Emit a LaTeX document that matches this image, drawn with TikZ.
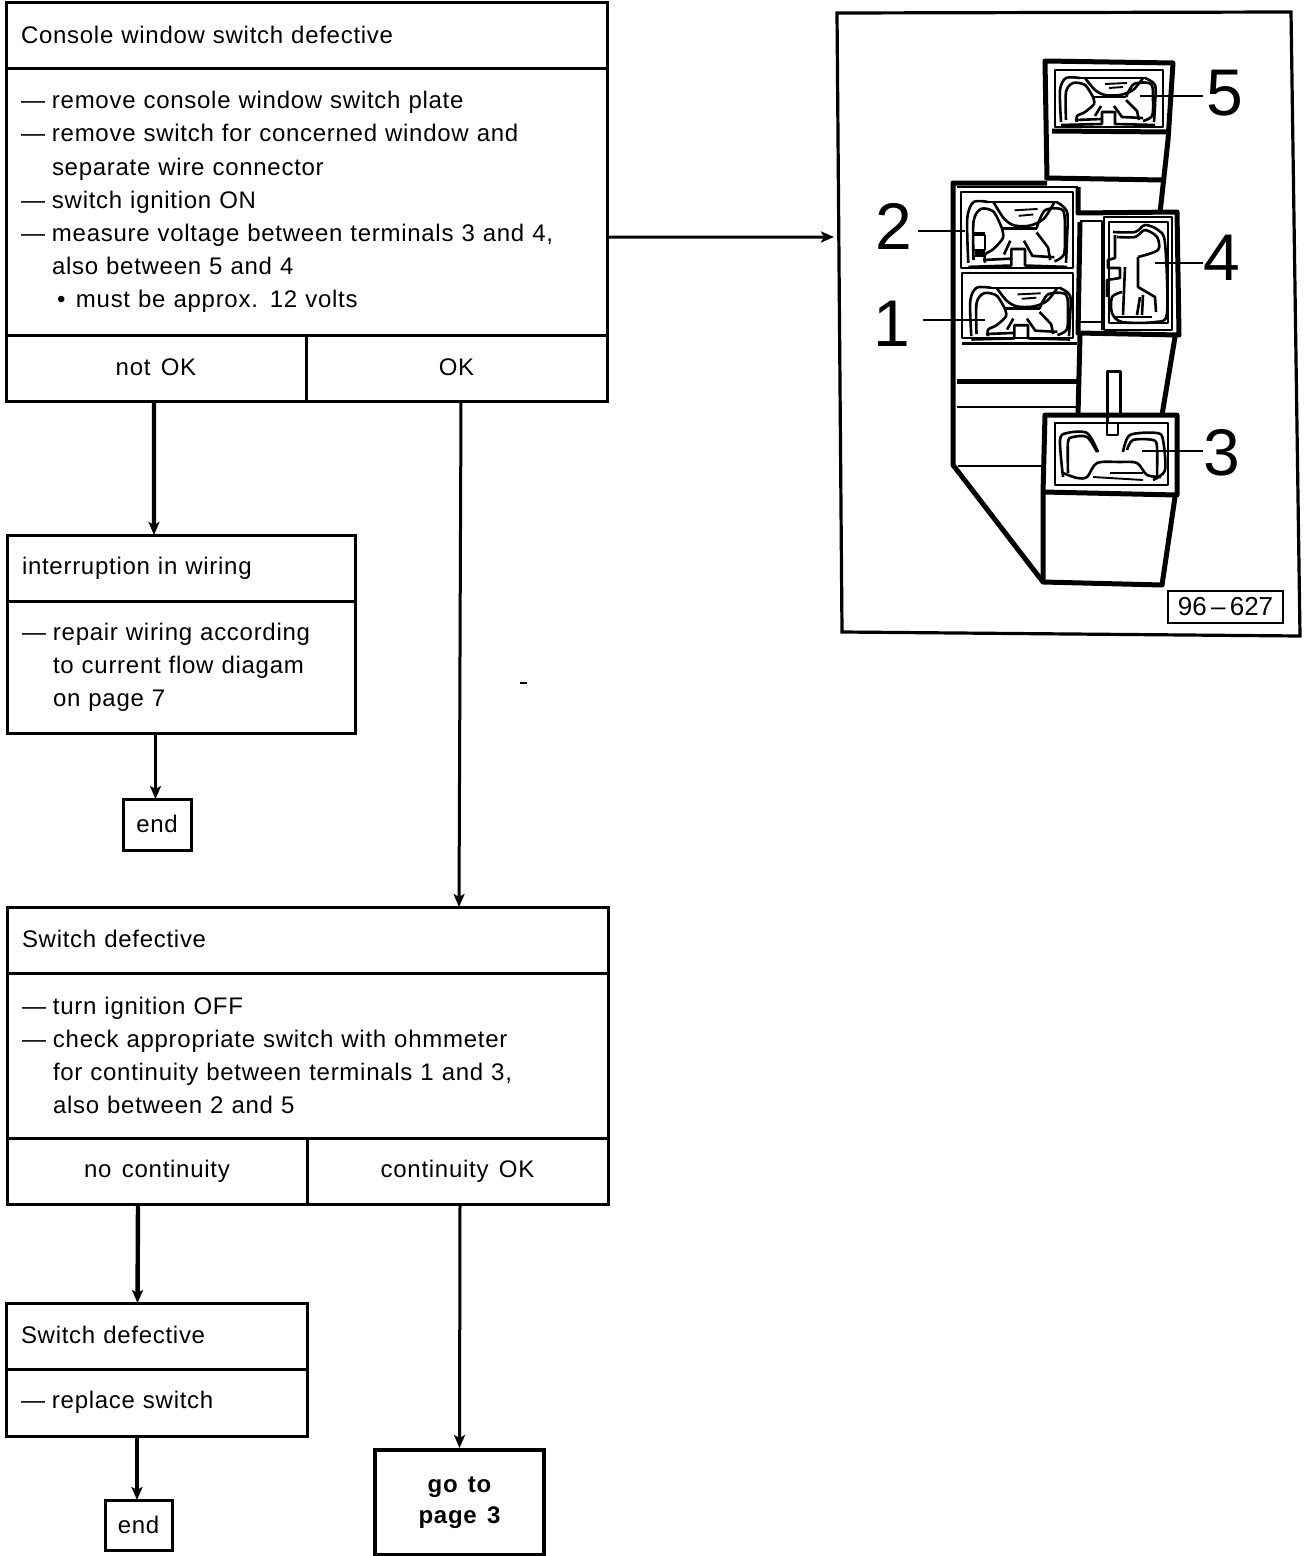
\documentclass[tikz,border=0pt]{standalone}
\usepackage{fontspec}
\setmainfont[LetterSpace=3,WordSpace=1.4]{Liberation Sans}
\newfontfamily\numfont{Liberation Sans}
\usetikzlibrary{arrows.meta}
\newcommand{\dd}{\makebox[31bp][l]{—}}
\newcommand{\ind}{\hspace*{31bp}}
\newcommand{\up}[1]{\raisebox{2bp}{#1}}
\newcommand{\terminal}[4]{%
\begin{scope}[shift={(#1,#2)},x={#3},y={#4},term part]
\draw plot[smooth] coordinates {(6,52)(5,20)(11,8)(25,8)};
\draw (25,8)--(90,8);
\draw plot[smooth] coordinates {(90,8)(100,15)(100,35)(99,52)};
\draw plot[smooth] coordinates {(30,8)(40,20)(50,25)(65,25)(78,20)(88,8)};
\draw plot[smooth] coordinates {(11,50)(11,22)(18,13)(30,15)(38,27)};
\draw (38,27)--(71,27);
\draw plot[smooth] coordinates {(71,27)(79,14)(96,14)(98,30)(97,46)(88,51)};
\draw plot[smooth] coordinates {(38,27)(39,34)(30,42)(22,46)(22,52)};
\draw (71,30)--(82,41)--(84,50);
\draw (46,36)--(40,46);
\draw (59,36)--(67,47)--(88,48);
\draw (20,50)--(47,49)--(47,42)--(60,42)--(60,54)--(100,55);
\draw (47,49)--(47,54)--(6,55);
\draw[thin part] (50,14)--(72,13) (54,18)--(68,17);
\end{scope}}
\tikzset{
  x=1bp,y=-1bp,
  boxline/.style={draw=black,line width=3bp},
  tbox/.style 2 args={boxline,anchor=north west,outer sep=0pt,inner ysep=0pt,inner xsep=15bp,
    text width=#1bp-30bp,minimum height=#2bp,align=left,
    font=\fontsize{24bp}{33.2bp}\selectfont},
  cbox/.style 2 args={boxline,anchor=north west,outer sep=0pt,inner sep=0pt,
    minimum width=#1bp,minimum height=#2bp,align=center,
    font=\fontsize{24bp}{31bp}\selectfont},
  arr/.style={line width=3bp,-{Stealth[length=13bp,width=11bp,inset=3bp]}},
  heavy arr/.style={arr,line width=4.4bp},
  thick part/.style={line width=5bp,line join=round},
  term part/.style={line width=2.6bp,line join=round},
  thin part/.style={line width=1.9bp,line join=round},
  numeral/.style={font=\fontsize{66bp}{66bp}\selectfont\numfont,inner sep=0pt},
  leader/.style={line width=2bp}
}
\begin{document}
\begin{tikzpicture}
\useasboundingbox (0,0) rectangle (1312,1556);
% --- first block
\node[tbox={601}{66}] (h1) at (6,3) {\up{Console window switch defective}};
\node[tbox={601}{266}] (b1) at (6,69) {\dd remove console window switch plate\\
\dd remove switch for concerned window and\\
\ind separate wire connector\\
\dd switch ignition ON\\
\dd measure voltage between terminals 3 and 4,\\
\ind also between 5 and 4\\
\hspace*{36bp}\makebox[19bp][l]{•}must be approx. 12 volts};
\node[cbox={300}{66}] (notok) at (6,335) {\up{not OK}};
\node[cbox={301}{66}] (ok) at (306,335) {\up{OK}};
% --- interruption
\node[tbox={348}{66}] (h2) at (7,535) {interruption in wiring};
\node[tbox={348}{132}] (b2) at (7,601) {\dd repair wiring according\\
\ind to current flow diagam\\
\ind on page 7};
\node[cbox={68}{51}] (end1) at (123,799) {\up{end}};
% --- switch defective
\node[tbox={601}{66}] (h3) at (7,907) {\up{Switch defective}};
\node[tbox={601}{165}] (b3) at (7,973) {\dd turn ignition OFF\\
\dd check appropriate switch with ohmmeter\\
\ind for continuity between terminals 1 and 3,\\
\ind also between 2 and 5\par\vspace*{5bp}};
\node[cbox={300}{66}] (nocont) at (7,1138) {no continuity};
\node[cbox={301}{66}] (contok) at (307,1138) {continuity OK};
% --- replace
\node[tbox={301}{66}] (h4) at (6,1303) {\up{Switch defective}};
\node[tbox={301}{67}] (b4) at (6,1369) {\dd replace switch};
\node[cbox={67}{50}] (end2) at (105,1500) {end};
\node[cbox={169}{105},line width=3.6bp] (goto) at (375,1450) {\up{\bfseries go to}\\\up{\bfseries page 3}};
% --- connectors
\coordinate (figin) at (834,237);
\draw[heavy arr] ([xshift=-2bp]notok.south) -- ([xshift=-27bp]h2.north);
\draw[arr] ([xshift=4.5bp]ok.south) -- ([xshift=151.5bp]h3.north);
\draw[arr] ([yshift=-35bp]b1.east) -- (figin);
\draw[arr,line width=3.4bp] ([xshift=-1.5bp]end1.north |- b2.south) -- ([xshift=-1.5bp]end1.north);
\draw[heavy arr] ([xshift=-19bp]nocont.south) -- ([xshift=-19bp]h4.north);
\draw[arr] ([xshift=2.5bp]contok.south) -- ([yshift=2bp]goto.north);
\draw[arr,line width=3.4bp] ([xshift=-1.5bp]end2.north |- b4.south) -- ([xshift=-1.5bp]end2.north);
\draw[line width=1.6bp] (520,683) -- (527,683);
% --- figure frame
\draw[line width=3.2bp,line join=miter] (837,13) -- (1291,12) -- (1300,636) -- (842,632) -- cycle;
% --- switch plate: housing
\begin{scope}[thick part]
\draw (1047,180) -- (1045,61) -- (1173,63) -- (1168,140) -- (1160,213);
\draw (1052,131) -- (1170,132);
\draw (1047,178) -- (1162,180);
\draw (1047,183) -- (953,183) -- (953,465) -- (1043,582) -- (1162,585) -- (1175,497);
\draw (1043,582) -- (1043,493) -- (1045,415) -- (1177,415) -- (1177,495) -- (1043,492);
\draw (1078,187) -- (1078,213) -- (1177,212) -- (1179,335) -- (1078,333) -- (1080,222);
\draw (1080,335) -- (1078,415);
\draw (1175,337) -- (1162,415);
\draw (957,381) -- (1077,381);
\end{scope}
\begin{scope}[thin part]
\draw (1055,70) rectangle (1163,127);
\draw (957,187) -- (1078,187);
\draw (961,192) rectangle (1073,268);
\draw (962,273) rectangle (1073,338);
\draw[line width=3bp] (962,343) -- (1077,343);
\draw[line width=2.6bp] (957,407) -- (1077,407);
\draw (958,466) -- (1043,466);
\draw[line width=2.6bp] (1080,221) -- (1102,221) -- (1102,330);
\draw[line width=2.6bp] (1080,322) -- (1102,322);
\draw (1104,217) rectangle (1172,330);
\draw[term part] (1109,222) rectangle (1168,323);
\draw (1055,423) rectangle (1168,485);
\draw[line width=3bp] (1107,423) -- (1107,371) -- (1120,371) -- (1120,415);
\draw[term part] (1107,423) -- (1107,435) -- (1118,435) -- (1118,423);
\end{scope}
\begin{scope}[term part]
% terminal 3
\draw plot[smooth] coordinates {(1063,477)(1060,440)(1067,433)(1087,433)(1098,452)};
\draw plot[smooth] coordinates {(1068,473)(1068,442)(1073,437)(1087,437)(1097,452)};
\draw plot[smooth] coordinates {(1123,452)(1130,435)(1157,433)(1163,440)(1165,470)(1153,480)};
\draw plot[smooth] coordinates {(1127,450)(1133,440)(1153,440)(1157,447)(1157,477)};
\draw plot[smooth] coordinates {(1063,473)(1077,478)(1087,477)(1097,463)(1120,462)(1137,463)(1147,475)(1161,477)};
\draw (1110,473) -- (1143,473);
\draw[thin part] (1093,477) -- (1143,480);
% terminal 4
\draw plot[smooth] coordinates {(1113,232)(1135,232)(1145,225)(1158,230)(1165,243)(1167,313)(1155,322)(1122,322)(1112,313)(1112,297)(1122,292)};
\draw (1115,235) -- (1115,258) -- (1108,260) -- (1108,268) -- (1120,268) -- (1120,278) -- (1107,280) -- (1107,297);
\draw plot[smooth] coordinates {(1117,237)(1135,237)(1145,230)(1157,237)(1158,250)(1138,257)};
\draw (1138,257) -- (1138,287) -- (1155,297) -- (1156,312);
\draw (1125,267) -- (1123,315);
\draw (1140,297) -- (1137,315);
\draw (1143,295) -- (1142,315);
\draw (1113,317) -- (1152,317);
\end{scope}
\terminal{1055}{70}{(1bp,0bp)}{(0bp,-1bp)}
\terminal{962}{191}{(1.05bp,0bp)}{(0bp,-1.38bp)}
\terminal{965}{279}{(1.05bp,0bp)}{(0bp,-1.1bp)}
\fill (973,232) rectangle (985,235);
\draw[term part] (973,235) rectangle (985,250);
\fill (975,250) rectangle (985,257);
% --- numerals and leaders
\node[numeral] (n5) at (1225,93) {5};
\node[numeral] (n2) at (894,226) {2};
\node[numeral] (n4) at (1222,258) {4};
\node[numeral] (n1) at (892,324) {1};
\node[numeral] (n3) at (1222,453) {3};
\coordinate (t5) at (1140,96);
\coordinate (t2) at (965,231);
\coordinate (t4) at (1155,263);
\coordinate (t1) at (985,320);
\coordinate (t3) at (1142,451);
\draw[leader] (t5) -- ([xshift=-3bp]t5 -| n5.west);
\draw[leader] ([xshift=5bp]t2 -| n2.east) -- (t2);
\draw[leader] ([xshift=12bp]t1 -| n1.east) -- (t1);
\draw[leader] (t4) -- (t4 -| n4.west);
\draw[leader] (t3) -- (t3 -| n3.west);
% --- figure number
\node[draw=black,line width=1.6bp,anchor=north west,outer sep=0pt,inner sep=0pt,minimum width=115bp,minimum height=32bp,font=\fontsize{26bp}{26bp}\selectfont\numfont] (fignum) at (1168,591) {96\,–\,627};
\end{tikzpicture}
\end{document}
